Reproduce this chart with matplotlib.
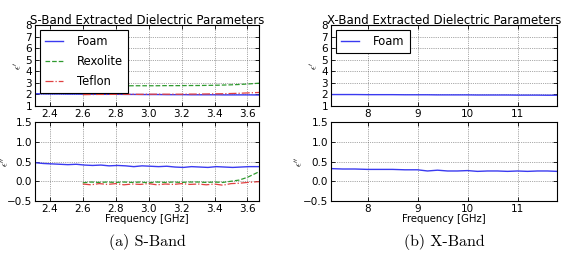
import numpy as np
import matplotlib
matplotlib.use("Agg")
import matplotlib.pyplot as plt

# ---------------- data ----------------
s_freq_foam = [2.31, 2.36, 2.41, 2.46, 2.51, 2.56, 2.61, 2.66, 2.71, 2.76, 2.81, 2.86,
               2.91, 2.96, 3.01, 3.06, 3.11, 3.16, 3.21, 3.26, 3.31, 3.36, 3.41, 3.46,
               3.51, 3.56, 3.61, 3.67]
s_foam_er = [2.06, 2.05, 2.04, 2.04, 2.03, 2.03, 2.02, 2.02, 2.01, 2.01, 2.01, 2.00,
             2.00, 1.99, 1.99, 1.99, 1.98, 1.98, 1.98, 1.97, 1.97, 1.97, 1.97, 1.96,
             1.96, 1.96, 1.96, 1.95]
s_foam_ei = [0.47, 0.45, 0.44, 0.43, 0.42, 0.43, 0.41, 0.40, 0.41, 0.39, 0.40, 0.39,
             0.37, 0.39, 0.38, 0.37, 0.38, 0.36, 0.35, 0.37, 0.36, 0.35, 0.37, 0.36,
             0.35, 0.36, 0.37, 0.37]

s_freq_dut = [2.60, 2.65, 2.70, 2.75, 2.80, 2.85, 2.90, 2.95, 3.00, 3.05, 3.10, 3.15,
              3.20, 3.25, 3.30, 3.35, 3.40, 3.45, 3.50, 3.55, 3.60, 3.67]
s_rex_er = [2.60, 2.68, 2.71, 2.73, 2.74, 2.74, 2.75, 2.75, 2.75, 2.75, 2.76, 2.76,
            2.76, 2.77, 2.77, 2.78, 2.79, 2.81, 2.83, 2.86, 2.90, 2.97]
s_rex_ei = [-0.04, -0.02, -0.03, -0.02, -0.03, -0.02, -0.03, -0.02, -0.04, -0.02, -0.03, -0.02,
            -0.03, -0.02, -0.02, -0.03, -0.02, -0.03, 0.00, 0.03, 0.10, 0.24]
s_tef_er = [1.98, 1.99, 2.00, 2.00, 2.01, 2.01, 2.01, 2.01, 2.02, 2.02, 2.02, 2.02,
            2.02, 2.03, 2.03, 2.04, 2.05, 2.06, 2.08, 2.10, 2.13, 2.17]
s_tef_ei = [-0.07, -0.09, -0.06, -0.08, -0.06, -0.09, -0.07, -0.08, -0.06, -0.09, -0.07, -0.08,
            -0.06, -0.08, -0.07, -0.09, -0.07, -0.10, -0.06, -0.05, -0.03, -0.01]

x_freq = [7.27, 7.5, 7.75, 8.0, 8.25, 8.5, 8.75, 9.0, 9.2, 9.4, 9.6, 9.8, 10.0,
          10.2, 10.4, 10.6, 10.8, 11.0, 11.2, 11.4, 11.6, 11.79]
x_foam_er = [1.99, 1.99, 1.99, 1.98, 1.98, 1.98, 1.97, 1.97, 1.97, 1.96, 1.96, 1.96, 1.96,
             1.95, 1.95, 1.95, 1.95, 1.94, 1.94, 1.94, 1.93, 1.93]
x_foam_ei = [0.32, 0.31, 0.31, 0.30, 0.30, 0.30, 0.29, 0.29, 0.26, 0.28, 0.26, 0.26, 0.27,
             0.25, 0.26, 0.26, 0.25, 0.26, 0.25, 0.26, 0.26, 0.25]

s_xlim = (2.31, 3.67)
x_xlim = (7.27, 11.79)
s_xticks = [2.4, 2.6, 2.8, 3.0, 3.2, 3.4, 3.6]
x_xticks = [8, 9, 10, 11]
er_ticks = [1, 2, 3, 4, 5, 6, 7, 8]
ei_ticks = [-0.5, 0.0, 0.5, 1.0, 1.5]

# ---------------- figure ----------------
plt.rcParams['font.family'] = ['DejaVu Sans']
plt.rcParams['mathtext.fontset'] = 'cm'
fig = plt.figure(figsize=(5.63, 2.54), dpi=100)

W, H = 563.0, 254.0
def ax_at(x0, x1, y0, y1):
    return fig.add_axes([x0 / W, 1 - y1 / H, (x1 - x0) / W, (y1 - y0) / H])

TICK = 7.5
def style(ax):
    ax.tick_params(direction='in', top=True, right=True, labelsize=TICK,
                   length=3, width=0.6, pad=2)
    ax.grid(True, linestyle=':', color='0.35', linewidth=0.5)
    for s in ax.spines.values():
        s.set_linewidth(0.8)

blue = '#3a3af0'
green = '#2e9a2e'
red = '#e04040'

# S-band
a1 = ax_at(35, 259, 25, 106)
a2 = ax_at(35, 259, 122, 201)
# X-band
b1 = ax_at(331, 557, 25, 106)
b2 = ax_at(331, 557, 122, 201)

a1.plot(s_freq_foam, s_foam_er, '-', color=blue, lw=1.0, label='Foam')
a1.plot(s_freq_dut, s_rex_er, '--', color=green, lw=0.9, label='Rexolite')
a1.plot(s_freq_dut, s_tef_er, '-.', color=red, lw=0.9, label='Teflon')
a2.plot(s_freq_foam, s_foam_ei, '-', color=blue, lw=1.0)
a2.plot(s_freq_dut, s_rex_ei, '--', color=green, lw=0.9)
a2.plot(s_freq_dut, s_tef_ei, '-.', color=red, lw=0.9)

b1.plot(x_freq, x_foam_er, '-', color=blue, lw=1.0, label='Foam')
b2.plot(x_freq, x_foam_ei, '-', color=blue, lw=1.0)

for ax, xl, xt in [(a1, s_xlim, s_xticks), (a2, s_xlim, s_xticks),
                   (b1, x_xlim, x_xticks), (b2, x_xlim, x_xticks)]:
    ax.set_xlim(*xl)
    ax.set_xticks(xt)
    style(ax)

for ax in (a1, b1):
    ax.set_ylim(1, 8)
    ax.set_yticks(er_ticks)
    ax.set_ylabel(r"$\epsilon'$", fontsize=7)
for ax in (a2, b2):
    ax.set_ylim(-0.5, 1.5)
    ax.set_yticks(ei_ticks)
    ax.set_yticklabels([f"{v:.1f}".replace('-', '\u2212') for v in ei_ticks])
    ax.set_ylabel(r"$\epsilon''$", fontsize=7)
    ax.set_xlabel('Frequency [GHz]', fontsize=7.3, labelpad=0)

# y-label positions (pixels from left edge of figure)
def place_ylabel(ax, xpix, axleft):
    ax.yaxis.set_label_coords((xpix - axleft) / (ax.get_position().width * W), 0.5)
place_ylabel(a1, 23, 35)
place_ylabel(a2, 10, 35)
place_ylabel(b1, 319, 331)
place_ylabel(b2, 304, 331)

a1.set_title('S-Band Extracted Dielectric Parameters', fontsize=8.5, pad=0.5)
b1.set_title('X-Band Extracted Dielectric Parameters', fontsize=8.5, pad=0.5)

leg_kw = dict(loc='upper left', fontsize=8.3, fancybox=False, framealpha=1,
              edgecolor='k', handlelength=1.6, labelspacing=0.6, borderpad=0.45,
              handletextpad=1.2, borderaxespad=0.4)
l1 = a1.legend(**leg_kw)
l2 = b1.legend(**leg_kw)
for l in (l1, l2):
    l.get_frame().set_linewidth(0.8)

fig.text(147 / W, 1 - 242 / H, '(a) S-Band', fontsize=11.5, family='cmr10',
         ha='center', va='center')
fig.text(444 / W, 1 - 242 / H, '(b) X-Band', fontsize=11.5, family='cmr10',
         ha='center', va='center')

fig.savefig('out.png', dpi=100)
